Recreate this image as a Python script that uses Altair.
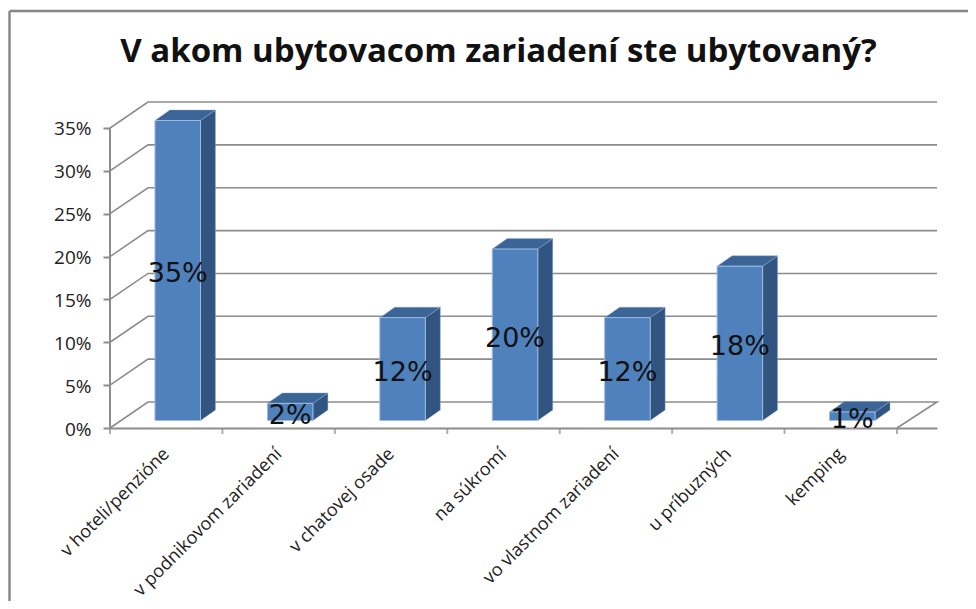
import altair as alt
import pandas as pd

categories = ["v hoteli/penzióne", "v podnikovom zariadení", "v chatovej osade", "na súkromí",
              "vo vlastnom zariadení", "u príbuzných", "kemping"]
shares = [35, 2, 12, 20, 12, 18, 1]
grid_levels = [0, 5, 10, 15, 20, 25, 30, 35]

FONT = "Open Sans"
GRAY = "#8c8c8c"
# projection of the 3D box, in axis units
WALL_X, WALL_Y = 0.338, 3.03
BAR_X, BAR_Y, BAR_W = 0.40, 0.875, 0.405
SIDE_X, SIDE_Y = 0.133, 1.22
XMAX, YMAX = 7.356, 38.03

x_scale = alt.Scale(domain=[0, XMAX], nice=False, zero=False)
y_scale = alt.Scale(domain=[0, YMAX], nice=False, zero=False)

grid_rows = []
for lv in grid_levels:
    grid_rows.append(dict(lv=lv, o=0, x=0, y=lv))
    grid_rows.append(dict(lv=lv, o=1, x=WALL_X, y=lv + WALL_Y))
    grid_rows.append(dict(lv=lv, o=2, x=XMAX, y=lv + WALL_Y))
grid_rows.append(dict(lv=0, o=3, x=7, y=0))
grid_df = pd.DataFrame(grid_rows)

grid = alt.Chart(grid_df).mark_line(color=GRAY, strokeWidth=1.6, clip=False).encode(
    x=alt.X("x:Q", scale=x_scale,
            axis=alt.Axis(values=[i + 0.5 for i in range(7)], title=None, domain=True, domainColor=GRAY,
                          domainWidth=2, tickSize=0, labelAngle=-45, labelAlign="right", labelBaseline="middle",
                          labelFont=FONT, labelFontSize=18, labelColor="#222222", labelPadding=23, labelOverlap=False,
                          labelLimit=400, labelExpr="%s[floor(datum.value)]" % str(categories),
                          grid=False)),
    y=alt.Y("y:Q", scale=y_scale,
            axis=alt.Axis(values=grid_levels, title=None, domain=False, tickSize=7, tickColor=GRAY, tickWidth=2,
                          labelExpr="datum.value + '%'", labelFont=FONT, labelFontSize=19, labelColor="#222222",
                          labelPadding=12, labelOffset=1, grid=False)),
    detail="lv:N", order="o:Q")

# y axis line and x ticks
axis_line = alt.Chart(pd.DataFrame({"x": [0], "y": [0], "y2": [35]})).mark_rule(color=GRAY, strokeWidth=2).encode(
    x=alt.X("x:Q", scale=x_scale), y=alt.Y("y:Q", scale=y_scale), y2="y2:Q")
xticks = alt.Chart(pd.DataFrame({"x": list(range(8))})).mark_tick(
    color=GRAY, thickness=2, size=6, orient="vertical").encode(
    x=alt.X("x:Q", scale=x_scale), y=alt.value(329))

front_df = pd.DataFrame([dict(c=c, v=v, x=i + BAR_X, x2=i + BAR_X + BAR_W, y=BAR_Y, y2=BAR_Y + v,
                              ym=BAR_Y + v / 2, xm=i + BAR_X + BAR_W / 2, label=f"{v}%")
                         for i, (c, v) in enumerate(zip(categories, shares))])
side_rows, top_rows = [], []
for i, v in enumerate(shares):
    xr = i + BAR_X + BAR_W
    xl = i + BAR_X
    top = BAR_Y + v
    side_rows += [dict(b=i, x=xr, y=BAR_Y, y2=top),
                  dict(b=i, x=xr + SIDE_X, y=BAR_Y + SIDE_Y, y2=top + SIDE_Y)]
    top_rows += [dict(b=i, x=xl, y=top, y2=top),
                 dict(b=i, x=xl + SIDE_X, y=top, y2=top + SIDE_Y),
                 dict(b=i, x=xr, y=top, y2=top + SIDE_Y),
                 dict(b=i, x=xr + SIDE_X, y=top + SIDE_Y, y2=top + SIDE_Y)]


def face(rows, color):
    return alt.Chart(pd.DataFrame(rows)).mark_area(
        color=color, orient="vertical", stroke="#8fb0d8", strokeWidth=0.6, strokeOpacity=0.7).encode(
        x=alt.X("x:Q", scale=x_scale), y=alt.Y("y:Q", scale=y_scale), y2="y2:Q",
        detail="b:N")


side = face(side_rows, "#325480")
top = face(top_rows, "#3b6596")
front = alt.Chart(front_df).mark_rect(color="#4f81bd", stroke="#9dbbe0", strokeWidth=1).encode(
    x=alt.X("x:Q", scale=x_scale), x2="x2:Q", y=alt.Y("y:Q", scale=y_scale), y2="y2:Q")
labels = alt.Chart(front_df).mark_text(font="DejaVu Sans", fontSize=27, color="#111111", baseline="middle", dy=4).encode(
    x=alt.X("xm:Q", scale=x_scale), y=alt.Y("ym:Q", scale=y_scale), text="label:N")

# outer frame of the chart object
frame = alt.Chart(pd.DataFrame({"a": [0]})).mark_rule(color="#868686", strokeWidth=2.4)
frame_layers = [
    frame.encode(x=alt.value(-100.5), x2=alt.value(870), y=alt.value(-91)),
    frame.encode(x=alt.value(-100.5), y=alt.value(-91), y2=alt.value(510)),
]

chart = alt.layer(grid, axis_line, xticks, side, top, front, labels, *frame_layers).properties(
    width=827, height=326,
    padding={"left": 102, "top": 94, "right": 31, "bottom": 173},
    autosize=alt.AutoSizeParams(type="none"),
    title=alt.TitleParams("V akom ubytovacom zariadení ste ubytovaný?", font=FONT, fontSize=33, fontWeight="bold",
                          color="#111111", anchor="middle", offset=-59, dx=-25),
).configure_view(stroke=None)

chart.save("out.html", embed_options={"renderer": "svg", "actions": False})
